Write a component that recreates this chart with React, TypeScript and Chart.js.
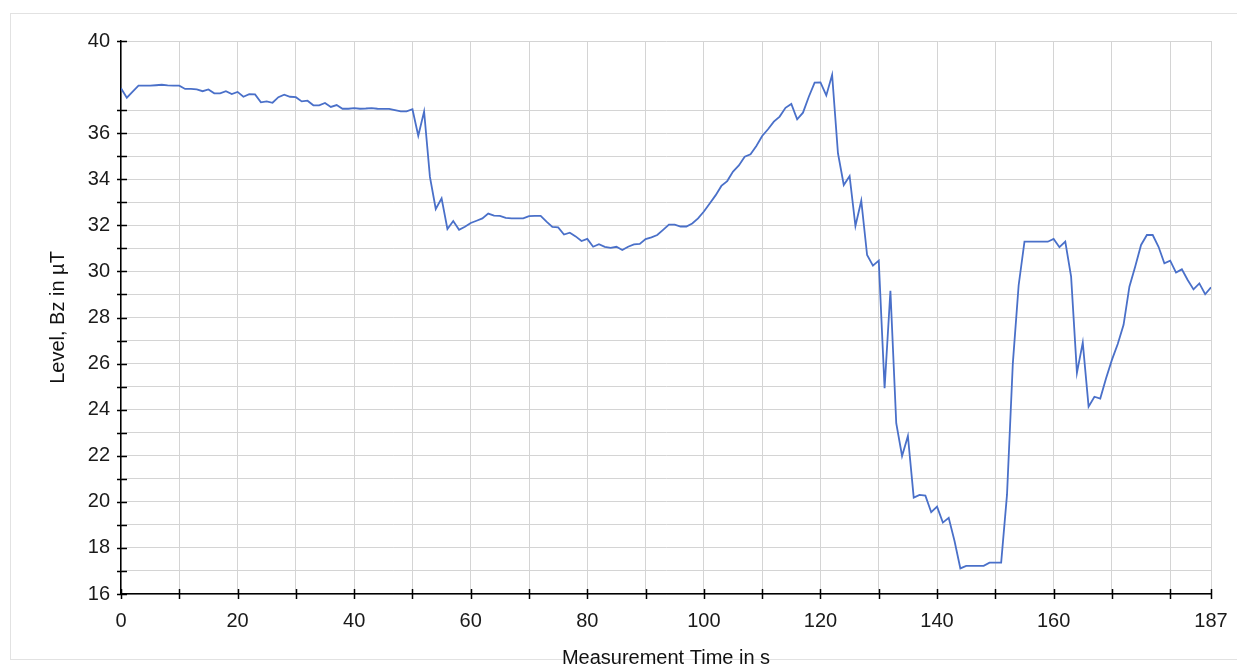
import React, { useEffect, useRef } from "react";
import { Chart, registerables } from "chart.js";

Chart.register(...registerables);

// Measurement time in seconds (one sample per second)
const seconds = [
  0, 1, 2, 3, 4, 5, 6, 7, 8, 9, 10, 11, 12, 13, 14, 15, 16, 17, 18, 19,
  20, 21, 22, 23, 24, 25, 26, 27, 28, 29, 30, 31, 32, 33, 34, 35, 36, 37, 38, 39,
  40, 41, 42, 43, 44, 45, 46, 47, 48, 49, 50, 51, 52, 53, 54, 55, 56, 57, 58, 59,
  60, 61, 62, 63, 64, 65, 66, 67, 68, 69, 70, 71, 72, 73, 74, 75, 76, 77, 78, 79,
  80, 81, 82, 83, 84, 85, 86, 87, 88, 89, 90, 91, 92, 93, 94, 95, 96, 97, 98, 99,
  100, 101, 102, 103, 104, 105, 106, 107, 108, 109, 110, 111, 112, 113, 114, 115, 116, 117, 118, 119,
  120, 121, 122, 123, 124, 125, 126, 127, 128, 129, 130, 131, 132, 133, 134, 135, 136, 137, 138, 139,
  140, 141, 142, 143, 144, 145, 146, 147, 148, 149, 150, 151, 152, 153, 154, 155, 156, 157, 158, 159,
  160, 161, 162, 163, 164, 165, 166, 167, 168, 169, 170, 171, 172, 173, 174, 175, 176, 177, 178, 179,
  180, 181, 182, 183, 184, 185, 186, 187,
];

// Level Bz in µT
const levelBz = [
  37.95, 37.54, 37.8, 38.06, 38.06, 38.06, 38.08, 38.1, 38.07, 38.06,
  38.06, 37.92, 37.92, 37.9, 37.82, 37.9, 37.73, 37.73, 37.82, 37.7,
  37.79, 37.58, 37.69, 37.68, 37.34, 37.38, 37.32, 37.56, 37.67, 37.58,
  37.56, 37.38, 37.41, 37.21, 37.21, 37.31, 37.14, 37.22, 37.06, 37.06,
  37.09, 37.06, 37.07, 37.09, 37.06, 37.05, 37.05, 37.0, 36.95, 36.95,
  37.04, 35.89, 36.94, 34.1, 32.71, 33.17, 31.84, 32.19, 31.81, 31.94,
  32.1, 32.2, 32.3, 32.51, 32.42, 32.41, 32.32, 32.3, 32.3, 32.3,
  32.4, 32.41, 32.41, 32.16, 31.93, 31.91, 31.6, 31.68, 31.52, 31.32,
  31.41, 31.07, 31.18, 31.07, 31.02, 31.07, 30.93, 31.07, 31.17, 31.19,
  31.4, 31.48, 31.58, 31.8, 32.03, 32.03, 31.95, 31.95, 32.08, 32.3,
  32.6, 32.95, 33.3, 33.71, 33.92, 34.33, 34.6, 34.98, 35.08, 35.44,
  35.88, 36.17, 36.5, 36.72, 37.1, 37.27, 36.6, 36.89, 37.58, 38.19,
  38.2, 37.64, 38.53, 35.13, 33.75, 34.14, 31.97, 33.07, 30.71, 30.25,
  30.47, 24.93, 29.16, 23.41, 21.99, 22.86, 20.18, 20.3, 20.27, 19.55,
  19.79, 19.1, 19.31, 18.3, 17.11, 17.22, 17.22, 17.22, 17.22, 17.36,
  17.36, 17.36, 20.3, 26.0, 29.4, 31.29, 31.29, 31.29, 31.29, 31.29,
  31.41, 31.05, 31.29, 29.77, 25.6, 26.91, 24.13, 24.56, 24.48, 25.36,
  26.16, 26.85, 27.68, 29.34, 30.21, 31.15, 31.58, 31.58, 31.07, 30.35,
  30.47, 29.95, 30.09, 29.63, 29.22, 29.48, 29.01, 29.31,
];

// Axis ticks
const xTickValues = [0, 10, 20, 30, 40, 50, 60, 70, 80, 90, 100, 110, 120, 130, 140, 150, 160, 170, 180, 187];
const xTickLabels = [0, 20, 40, 60, 80, 100, 120, 140, 160, 187];
const yTickValues = [16, 17, 18, 19, 20, 21, 22, 23, 24, 25, 26, 27, 28, 29, 30, 31, 32, 33, 34, 35, 36, 37, 40];
const yTickLabels = [16, 18, 20, 22, 24, 26, 28, 30, 32, 34, 36, 40];

const FONT = "'Liberation Sans', Arial, Helvetica, sans-serif";

const crossTicks = {
  id: "crossTicks",
  beforeDatasetsDraw(chart: any) {
    const { ctx, chartArea } = chart;
    const xs = chart.scales.x;
    const ys = chart.scales.y;
    ctx.save();
    ctx.strokeStyle = "#000";
    ctx.lineWidth = 1.5;
    ctx.beginPath();
    for (const v of yTickValues) {
      const py = Math.round(ys.getPixelForValue(v)) + 0.5;
      ctx.moveTo(chartArea.left - 4, py);
      ctx.lineTo(chartArea.left + 6, py);
    }
    for (const v of xTickValues) {
      const px = Math.round(xs.getPixelForValue(v)) + 0.5;
      ctx.moveTo(px, chartArea.bottom - 5);
      ctx.lineTo(px, chartArea.bottom + 5);
    }
    ctx.stroke();
    ctx.restore();
  },
};

export default function App() {
  const canvasRef = useRef<HTMLCanvasElement | null>(null);

  useEffect(() => {
    const canvas = canvasRef.current;
    if (!canvas) return;
    const points = seconds.map((t, i) => ({ x: t, y: levelBz[i] }));
    const chart = new Chart(canvas, {
      type: "line",
      data: {
        datasets: [
          {
            data: points,
            borderColor: "#4a70c9",
            borderWidth: 1.8,
            pointRadius: 0,
            tension: 0,
            fill: false,
          },
        ],
      },
      options: {
        responsive: false,
        animation: false,
        devicePixelRatio: 1,
        layout: { padding: { top: 41, right: 26, left: 0, bottom: 0 } },
        plugins: {
          legend: { display: false },
          tooltip: { enabled: false },
        },
        scales: {
          x: {
            type: "linear",
            min: 0,
            max: 187,
            afterBuildTicks: (scale: any) => {
              scale.ticks = xTickValues.map((v) => ({ value: v }));
            },
            afterFit: (scale: any) => {
              scale.height = 86;
              scale.paddingLeft = 0;
              scale.paddingRight = 0;
            },
            ticks: {
              autoSkip: false,
              maxRotation: 0,
              padding: 15,
              color: "#1a1a1a",
              font: { family: FONT, size: 20 },
              callback: (v: any) => (xTickLabels.includes(Number(v)) ? String(v) : ""),
            },
            grid: { color: "#d4d4d4", lineWidth: 1, drawTicks: false },
            border: { display: true, color: "#000", width: 1.5 },
            title: {
              display: true,
              text: "Measurement Time in s",
              color: "#111",
              font: { family: FONT, size: 20 },
              padding: { top: 0, bottom: 10 },
            },
          },
          y: {
            type: "linear",
            min: 16,
            max: 40,
            afterBuildTicks: (scale: any) => {
              scale.ticks = yTickValues.map((v) => ({ value: v }));
            },
            afterFit: (scale: any) => {
              scale.width = 121;
              scale.paddingTop = 0;
              scale.paddingBottom = 0;
            },
            ticks: {
              autoSkip: false,
              padding: 11,
              color: "#1a1a1a",
              font: { family: FONT, size: 20 },
              callback: (v: any) => (yTickLabels.includes(Number(v)) ? String(v) : ""),
            },
            grid: { color: "#d4d4d4", lineWidth: 1, drawTicks: false },
            border: { display: true, color: "#000", width: 1.5 },
            title: {
              display: true,
              text: "Level, Bz in µT",
              color: "#111",
              font: { family: FONT, size: 20 },
              padding: { top: 46, bottom: 0 },
            },
          },
        },
      },
      plugins: [crossTicks],
    });
    return () => chart.destroy();
  }, []);

  return (
    <div>
      <div
        style={{
          position: "fixed",
          left: 10,
          top: 13,
          width: 1300,
          height: 647,
          border: "1px solid #e2e2e2",
          boxSizing: "border-box",
        }}
      />
      <canvas
        ref={canvasRef}
        width={1237}
        height={680}
        style={{ position: "fixed", left: 0, top: 0, display: "block" }}
      />
    </div>
  );
}
